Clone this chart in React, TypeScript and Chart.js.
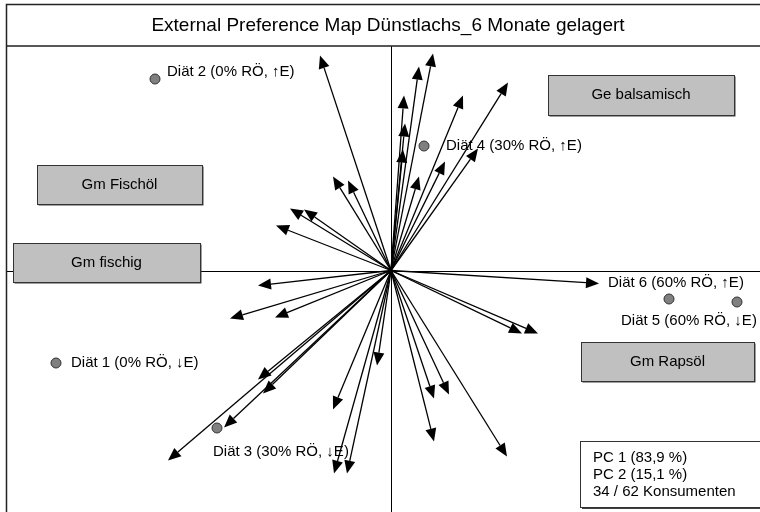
import React, { useEffect, useRef } from "react";
import { Chart, registerables } from "chart.js";

Chart.register(...registerables);

// ---------- data ----------
const titleText = "External Preference Map Dünstlachs_6 Monate gelagert";

// consumer vectors (arrow tips)
const consumerX = [
  0.42, 0.28, 0.13, 0.14, 0.12, 0.72, 1.17, 0.87, 0.54, 0.28,
  -0.71, -0.58, -0.43, -1.01, -0.87, -1.15,
  -1.33, -1.61, -1.16, -1.33, -1.28, -1.67, -2.23, -0.58, -0.57, -0.44, -0.14,
  1.31, 1.47, 0.43, 0.58, 0.43, 1.16, 2.08,
];
const consumerY = [
  2.17, 2.04, 1.75, 1.47, 1.21, 1.75, 1.88, 1.22, 1.09, 0.94,
  2.15, 0.94, 0.90, 0.62, 0.61, 0.45,
  -0.15, -0.48, -0.47, -1.09, -1.23, -1.57, -1.90, -1.39, -2.03, -2.03, -0.95,
  -0.63, -0.63, -1.28, -1.24, -1.71, -1.86, -0.13,
];

const dietNames = [
  "Diät 1 (0% RÖ, ↓E)",
  "Diät 2 (0% RÖ, ↑E)",
  "Diät 3 (30% RÖ, ↓E)",
  "Diät 4 (30% RÖ, ↑E)",
  "Diät 5 (60% RÖ, ↓E)",
  "Diät 6 (60% RÖ, ↑E)",
];
const dietX = [-3.35, -2.36, -1.74, 0.33, 3.46, 2.78];
const dietY = [-0.925, 1.915, -1.575, 1.245, -0.315, -0.285];

const attributeNames = ["Gm Fischöl", "Gm fischig", "Ge balsamisch", "Gm Rapsöl"];
const attributeX = [-2.715, -2.845, 2.5, 2.765];
const attributeY = [0.86, 0.08, 1.755, -0.91];

const legendLines = ["PC 1 (83,9 %)", "PC 2 (15,1 %)", "34 / 62 Konsumenten"];

// ---------- layout / style (not data) ----------
const dietLabelOffsets: [number, number][] = [
  [15, 0],
  [12, -7],
  [-4, 24],
  [22, 0],
  [-116, 19],
  [-61, -16],
];
const attributeBoxSizes: [number, number][] = [
  [165, 39],
  [187, 39],
  [186, 40],
  [173, 39],
];
const FONT = "'Liberation Sans', Arial, sans-serif";

const overlayPlugin = {
  id: "prefmapOverlay",
  beforeDatasetsDraw(chart: any) {
    const ctx = chart.ctx as CanvasRenderingContext2D;
    const xs = chart.scales.x;
    const ys = chart.scales.y;
    const cx = xs.getPixelForValue(0);
    const cy = ys.getPixelForValue(0);
    const W = chart.width;
    const H = chart.height;
    ctx.save();
    ctx.fillStyle = "#ffffff";
    ctx.fillRect(0, 0, W, H);

    // axes
    ctx.strokeStyle = "#000000";
    ctx.lineWidth = 1;
    ctx.beginPath();
    ctx.moveTo(6, Math.round(cy) + 0.5);
    ctx.lineTo(W, Math.round(cy) + 0.5);
    ctx.moveTo(Math.round(cx) + 0.5, 46);
    ctx.lineTo(Math.round(cx) + 0.5, H);
    ctx.stroke();

    // consumer arrows
    ctx.fillStyle = "#000000";
    ctx.strokeStyle = "#000000";
    ctx.lineWidth = 1.3;
    const headL = 13;
    const headW = 11;
    for (let i = 0; i < consumerX.length; i++) {
      const tx = xs.getPixelForValue(consumerX[i]);
      const ty = ys.getPixelForValue(consumerY[i]);
      const a = Math.atan2(ty - cy, tx - cx);
      const bx = tx - headL * Math.cos(a);
      const by = ty - headL * Math.sin(a);
      ctx.beginPath();
      ctx.moveTo(cx, cy);
      ctx.lineTo(bx, by);
      ctx.stroke();
      ctx.beginPath();
      ctx.moveTo(tx, ty);
      ctx.lineTo(bx - (headW / 2) * Math.sin(a), by + (headW / 2) * Math.cos(a));
      ctx.lineTo(bx + (headW / 2) * Math.sin(a), by - (headW / 2) * Math.cos(a));
      ctx.closePath();
      ctx.fill();
    }

    // attribute boxes
    ctx.font = `15px ${FONT}`;
    ctx.textAlign = "center";
    ctx.textBaseline = "middle";
    for (let i = 0; i < attributeNames.length; i++) {
      const px = xs.getPixelForValue(attributeX[i]);
      const py = ys.getPixelForValue(attributeY[i]);
      const [bw, bh] = attributeBoxSizes[i];
      const x0 = Math.round(px - bw / 2) + 0.5;
      const y0 = Math.round(py - bh / 2) + 0.5;
      ctx.fillStyle = "#404040";
      ctx.fillRect(x0 + 1, y0 + 1, bw, bh);
      ctx.fillStyle = "#c0c0c0";
      ctx.fillRect(x0, y0, bw, bh);
      ctx.strokeStyle = "#333333";
      ctx.lineWidth = 1;
      ctx.strokeRect(x0, y0, bw, bh);
      ctx.fillStyle = "#000000";
      ctx.fillText(attributeNames[i], px, py);
    }
    ctx.restore();
  },
  afterDatasetsDraw(chart: any) {
    const ctx = chart.ctx as CanvasRenderingContext2D;
    const xs = chart.scales.x;
    const ys = chart.scales.y;
    const W = chart.width;
    const H = chart.height;
    ctx.save();
    // diet labels
    ctx.font = `15px ${FONT}`;
    ctx.fillStyle = "#000000";
    ctx.textAlign = "left";
    ctx.textBaseline = "middle";
    for (let i = 0; i < dietNames.length; i++) {
      const px = xs.getPixelForValue(dietX[i]);
      const py = ys.getPixelForValue(dietY[i]);
      const [ox, oy] = dietLabelOffsets[i];
      ctx.fillText(dietNames[i], px + ox, py + oy);
    }

    // title box and outer frame
    ctx.strokeStyle = "#222222";
    ctx.lineWidth = 1.5;
    ctx.fillStyle = "#ffffff";
    ctx.fillRect(6, 4, W - 6, 42);
    ctx.beginPath();
    ctx.moveTo(W, 4.5);
    ctx.lineTo(6.5, 4.5);
    ctx.lineTo(6.5, H);
    ctx.moveTo(6.5, 46);
    ctx.lineTo(W, 46);
    ctx.stroke();
    ctx.font = `19px ${FONT}`;
    ctx.textAlign = "center";
    ctx.fillStyle = "#000000";
    ctx.fillText(titleText, 388, 26);

    // legend box
    ctx.fillStyle = "#404040";
    ctx.fillRect(582, 443, W, 66);
    ctx.fillStyle = "#ffffff";
    ctx.fillRect(580.5, 441.5, W, 66);
    ctx.strokeStyle = "#333333";
    ctx.lineWidth = 1;
    ctx.strokeRect(580.5, 441.5, W, 66);
    ctx.font = `15px ${FONT}`;
    ctx.textAlign = "left";
    ctx.fillStyle = "#000000";
    legendLines.forEach((t, i) => ctx.fillText(t, 593, 458 + i * 17));
    ctx.restore();
  },
};

export default function App() {
  const ref = useRef<HTMLCanvasElement | null>(null);
  useEffect(() => {
    if (!ref.current) return;
    const chart = new Chart(ref.current, {
      type: "scatter",
      data: {
        datasets: [
          {
            label: "Diäten",
            data: dietX.map((x, i) => ({ x, y: dietY[i] })),
            pointRadius: 5,
            pointBackgroundColor: "#808080",
            pointBorderColor: "#333333",
            pointBorderWidth: 1,
          },
        ],
      },
      options: {
        responsive: false,
        animation: false,
        events: [],
        layout: { padding: 0, autoPadding: false },
        plugins: {
          legend: { display: false },
          title: { display: false },
          tooltip: { enabled: false },
        },
        scales: {
          x: { type: "linear", min: -3.91, max: 3.69, display: false },
          y: { type: "linear", min: -2.415, max: 2.705, display: false },
        },
      },
      plugins: [overlayPlugin],
    });
    return () => chart.destroy();
  }, []);
  return (
    <div style={{ position: "fixed", left: 0, top: 0, width: 760, height: 512, background: "#fff" }}>
      <canvas ref={ref} width={760} height={512} style={{ width: 760, height: 512, display: "block" }} />
    </div>
  );
}
